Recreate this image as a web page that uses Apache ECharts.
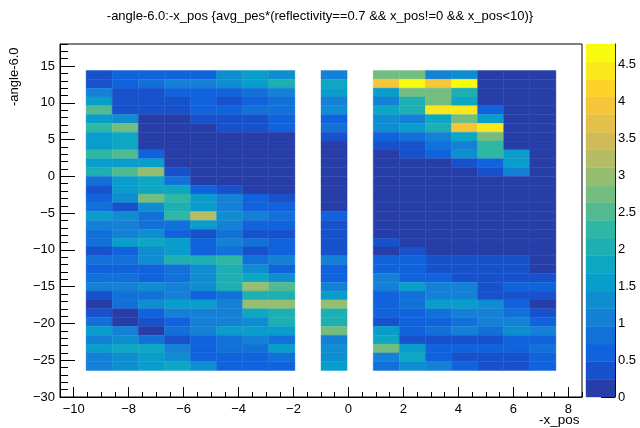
<!DOCTYPE html>
<html>
<head>
<meta charset="utf-8">
<script src="https://cdn.jsdelivr.net/npm/echarts@6/dist/echarts.min.js"></script>
<style>
  html, body { margin: 0; padding: 0; background: #fff; }
  #chart { width: 640px; height: 428px; }
</style>
</head>
<body>
<div id="chart"></div>
<script>
// tick labels
const xTickLabels = [-10, -8, -6, -4, -2, 0, 2, 4, 6, 8];
const yTickLabels = [-30, -25, -20, -15, -10, -5, 0, 5, 10, 15];
const zTickLabels = [0, 0.5, 1, 1.5, 2, 2.5, 3, 3.5, 4, 4.5];

// binning of the histogram (20 x bins, 40 y bins)
const X_LO = -10.5, X_HI = 8.5, X_BIN = 0.95;
const Y_LO = -30, Y_HI = 18, Y_BIN = 1.2;
const ZMAX = 4.77;
const NLEV = 20;

// x bins that hold data
const binsLeft = [1, 2, 3, 4, 5, 6, 7, 8];
const binMid = 10;
const binsRight = [12, 13, 14, 15, 16, 17, 18];
// y bin of the first row below (rows go downwards)
const topRowBin = 36;

// values, one row per y bin, from top to bottom
const zLeft = [
  [0.36, 0.6, 0.6, 0.6, 0.7, 1.2, 1.45, 1.2],
  [0.36, 0.6, 0.83, 1.07, 1.07, 1.31, 1.55, 2.03],
  [1.07, 0.36, 0.36, 0.6, 0.6, 0.6, 0.83, 1.0],
  [1.55, 0.36, 0.36, 0.36, 0.6, 0.36, 0.6, 0.83],
  [2.5, 0.36, 0.36, 0.36, 0.6, 0.6, 0.83, 0.83],
  [1.55, 1.2, 0.1, 0.1, 0.36, 0.36, 0.36, 0.6],
  [2.27, 2.74, 0.1, 0.1, 0.1, 0.36, 0.36, 0.6],
  [1.55, 1.79, 0.1, 0.1, 0.1, 0.1, 0.1, 0.1],
  [1.55, 1.79, 0.1, 0.1, 0.1, 0.1, 0.1, 0.1],
  [2.27, 2.5, 0.6, 0.1, 0.1, 0.1, 0.1, 0.1],
  [1.55, 1.55, 1.6, 0.1, 0.1, 0.1, 0.1, 0.1],
  [2.03, 2.5, 2.98, 0.36, 0.1, 0.1, 0.1, 0.1],
  [0.83, 1.55, 1.79, 0.9, 0.1, 0.1, 0.1, 0.1],
  [0.36, 1.55, 1.79, 1.85, 0.6, 0.36, 0.1, 0.1],
  [0.7, 1.31, 2.74, 2.27, 1.55, 1.1, 0.7, 0.36],
  [0.9, 0.4, 1.31, 2.03, 1.55, 1.1, 0.6, 0.5],
  [1.55, 1.25, 0.83, 2.27, 3.22, 1.25, 1.07, 0.9],
  [1.07, 1.07, 0.83, 0.83, 1.55, 1.07, 0.6, 0.6],
  [0.85, 1.07, 1.25, 0.6, 0.36, 0.83, 0.36, 0.36],
  [0.85, 1.55, 1.79, 1.55, 0.6, 1.07, 0.75, 0.6],
  [0.36, 0.6, 1.31, 1.5, 0.7, 0.83, 0.36, 0.6],
  [0.83, 0.83, 1.31, 2.03, 2.03, 2.27, 0.83, 1.07],
  [0.6, 0.6, 0.6, 0.83, 1.31, 2.03, 1.31, 0.6],
  [0.75, 0.75, 0.6, 0.75, 1.31, 2.03, 1.79, 1.25],
  [1.07, 1.07, 1.31, 1.07, 1.31, 2.03, 2.98, 2.5],
  [0.36, 0.8, 0.83, 1.07, 0.6, 0.83, 2.03, 2.03],
  [0.15, 0.83, 1.25, 1.5, 1.5, 1.07, 2.98, 2.98],
  [0.36, 0.15, 0.6, 1.07, 1.07, 1.07, 1.79, 2.03],
  [0.83, 0.15, 0.36, 0.6, 1.07, 1.07, 1.31, 2.03],
  [1.55, 1.07, 0.15, 0.83, 1.07, 1.55, 1.55, 1.55],
  [1.0, 1.25, 0.8, 0.36, 0.6, 0.83, 1.07, 0.83],
  [1.55, 1.79, 1.79, 1.07, 0.6, 0.83, 0.83, 1.55],
  [1.07, 1.31, 1.55, 1.31, 0.6, 0.6, 0.6, 0.83],
  [1.07, 1.31, 1.55, 1.9, 1.31, 0.6, 0.6, 0.6]
];

const zMid = [1.07, 1.79, 1.55, 1.07, 1.31, 0.6, 0.83, 0.36, 0.1, 0.1, 0.1, 0.1,
  0.1, 0.1, 0.1, 0.1, 0.6, 0.36, 0.36, 0.36, 0.36, 1.07, 0.7, 0.6, 1.07, 1.55,
  2.98, 2.03, 2.03, 2.74, 1.07, 1.31, 1.31, 1.55];

const zRight = [
  [2.74, 2.74, 1.07, 1.31, 0.1, 0.1, 0.1],
  [3.95, 4.77, 3.95, 4.65, 0.1, 0.1, 0.1],
  [1.55, 2.74, 2.74, 2.03, 0.1, 0.1, 0.1],
  [1.07, 2.03, 2.74, 1.79, 0.1, 0.1, 0.1],
  [1.79, 2.03, 4.41, 4.41, 0.6, 0.1, 0.1],
  [1.31, 1.07, 1.79, 2.74, 1.55, 0.1, 0.1],
  [1.31, 1.55, 2.03, 3.95, 4.41, 0.1, 0.1],
  [0.6, 0.83, 1.07, 1.79, 2.74, 0.1, 0.1],
  [0.36, 0.36, 0.83, 1.07, 2.27, 0.1, 0.1],
  [0.1, 0.36, 0.6, 1.31, 2.27, 1.55, 0.1],
  [0.1, 0.1, 0.1, 0.36, 0.6, 1.55, 0.1],
  [0.1, 0.1, 0.1, 0.1, 0.36, 1.07, 0.1],
  [0.1, 0.1, 0.1, 0.1, 0.1, 0.1, 0.1],
  [0.1, 0.1, 0.1, 0.1, 0.1, 0.1, 0.1],
  [0.1, 0.1, 0.1, 0.1, 0.1, 0.1, 0.1],
  [0.1, 0.1, 0.1, 0.1, 0.1, 0.1, 0.1],
  [0.1, 0.1, 0.1, 0.1, 0.1, 0.1, 0.1],
  [0.1, 0.1, 0.1, 0.1, 0.1, 0.1, 0.1],
  [0.1, 0.1, 0.1, 0.1, 0.1, 0.1, 0.1],
  [0.36, 0.1, 0.1, 0.1, 0.1, 0.1, 0.1],
  [0.1, 0.36, 0.1, 0.1, 0.1, 0.1, 0.1],
  [0.6, 0.6, 0.36, 0.36, 0.36, 0.36, 0.1],
  [0.6, 0.6, 0.36, 0.36, 0.36, 0.36, 0.1],
  [1.07, 0.6, 0.6, 0.36, 0.36, 0.36, 0.36],
  [1.07, 1.55, 1.07, 1.07, 0.36, 0.6, 0.6],
  [0.6, 0.83, 1.07, 1.07, 0.36, 0.36, 0.36],
  [0.6, 0.83, 1.55, 1.55, 1.31, 0.6, 0.1],
  [0.6, 0.6, 0.83, 1.07, 1.07, 0.83, 0.36],
  [0.36, 0.6, 0.6, 0.83, 1.07, 1.07, 0.6],
  [1.55, 0.6, 0.83, 1.07, 0.83, 1.31, 1.07],
  [1.79, 0.36, 0.36, 0.36, 0.36, 0.6, 0.6],
  [2.74, 1.55, 0.6, 0.6, 0.6, 0.6, 0.83],
  [1.07, 1.79, 0.6, 0.36, 0.36, 0.36, 0.6],
  [0.83, 1.31, 1.07, 0.6, 0.36, 0.36, 0.6]
];

// ROOT "bird" palette
const birdStops = [0, 0.125, 0.25, 0.375, 0.5, 0.625, 0.75, 0.875, 1];
const birdR = [0.2082, 0.0592, 0.0780, 0.0232, 0.1802, 0.5301, 0.8186, 0.9956, 0.9764];
const birdG = [0.1664, 0.3599, 0.5041, 0.6419, 0.7178, 0.7492, 0.7328, 0.7862, 0.9832];
const birdB = [0.5293, 0.8684, 0.8385, 0.7914, 0.6425, 0.4662, 0.3499, 0.1968, 0.0539];

function bird(f) {
  let i = 0;
  while (i < birdStops.length - 2 && f > birdStops[i + 1]) i++;
  const t = (f - birdStops[i]) / (birdStops[i + 1] - birdStops[i]);
  const c = a => Math.round(255 * (a[i] + t * (a[i + 1] - a[i])));
  return 'rgb(' + c(birdR) + ',' + c(birdG) + ',' + c(birdB) + ')';
}
function levelColor(k) {
  const idx = Math.min(254, Math.floor((k + 0.99) * 255 / NLEV));
  return bird(idx / 254);
}
function valueColor(z) {
  let k = Math.floor(z / (ZMAX / NLEV));
  if (k > NLEV - 1) k = NLEV - 1;
  return levelColor(k);
}

// cells: [x bin, y bin, value]
let cells = [];
for (let r = 0; r < zLeft.length; r++) {
  const yb = topRowBin - r;
  binsLeft.forEach((xb, c) => cells.push([xb, yb, zLeft[r][c]]));
  cells.push([binMid, yb, zMid[r]]);
  binsRight.forEach((xb, c) => cells.push([xb, yb, zRight[r][c]]));
}

let levels = [];
for (let k = 0; k < NLEV; k++) levels.push([k]);

function range(a, b, step) {
  let out = [];
  for (let v = a; v <= b + 1e-9; v += step) out.push(Math.round(v * 100) / 100);
  return out;
}
const xMinor = range(X_LO, X_HI, 0.5).filter(v => xTickLabels.indexOf(v) < 0);
const yMinor = range(Y_LO, Y_HI, 1).filter(v => yTickLabels.indexOf(v) < 0);

const FONT = 'Liberation Sans, Arial, sans-serif';
const minus = v => String(v).replace('-', '\u2212');

let myChart = echarts.init(document.getElementById('chart'), null, { renderer: 'canvas' });

let option = {
  animation: false,
  backgroundColor: '#fff',
  title: {
    text: '-angle-6.0:-x_pos {avg_pes*(reflectivity==0.7 && x_pos!=0 && x_pos<10)}',
    left: 'center',
    top: 5,
    textStyle: { fontFamily: FONT, fontSize: 13, fontWeight: 'normal', color: '#000' }
  },
  grid: [
    { left: 60, right: 58, top: 44, bottom: 31, show: true, borderColor: '#000', borderWidth: 1, backgroundColor: 'transparent' },
    { left: 586, right: 25, top: 44, bottom: 31 }
  ],
  xAxis: [
    {
      type: 'value', gridIndex: 0, min: X_LO, max: X_HI, position: 'bottom',
      axisLine: { onZero: false, lineStyle: { color: '#000', width: 1 } },
      axisTick: { inside: true, length: 10, lineStyle: { color: '#000' }, customValues: xTickLabels },
      axisLabel: { customValues: xTickLabels, formatter: minus, color: '#000', fontFamily: FONT, fontSize: 13, margin: 6 },
      splitLine: { show: false }
    },
    {
      type: 'value', gridIndex: 0, min: X_LO, max: X_HI, position: 'bottom', offset: 0,
      axisLine: { show: false, onZero: false },
      axisTick: { inside: true, length: 5, lineStyle: { color: '#000' }, customValues: xMinor },
      axisLabel: { show: false },
      splitLine: { show: false }
    },
    {
      type: 'value', gridIndex: 1, min: 0, max: 1, show: false
    }
  ],
  yAxis: [
    {
      type: 'value', gridIndex: 0, min: Y_LO, max: Y_HI, position: 'left',
      axisLine: { show: true, onZero: false, lineStyle: { color: '#000', width: 1 } },
      axisTick: { show: true, inside: true, length: 15, lineStyle: { color: '#000' }, customValues: yTickLabels },
      axisLabel: { customValues: yTickLabels, formatter: minus, color: '#000', fontFamily: FONT, fontSize: 13, margin: 5 },
      splitLine: { show: false }
    },
    {
      type: 'value', gridIndex: 0, min: Y_LO, max: Y_HI, position: 'left', offset: 0,
      axisLine: { show: false, onZero: false },
      axisTick: { show: true, inside: true, length: 8, lineStyle: { color: '#000' }, customValues: yMinor },
      axisLabel: { show: false },
      splitLine: { show: false }
    },
    {
      type: 'value', gridIndex: 1, min: 0, max: ZMAX, position: 'right',
      axisLine: { show: true, onZero: false, lineStyle: { color: '#000', width: 1 } },
      axisTick: { show: true, inside: true, length: 14, lineStyle: { color: '#000' }, customValues: zTickLabels },
      axisLabel: { customValues: zTickLabels, color: '#000', fontFamily: FONT, fontSize: 13, margin: 3 },
      splitLine: { show: false }
    }
  ],
  graphic: [
    {
      type: 'text', left: 539, top: 413,
      style: { text: '-x_pos', fontFamily: FONT, fontSize: 13.5, fill: '#000' }
    },
    {
      type: 'text', x: 8, y: 106, rotation: Math.PI / 2,
      style: { text: '-angle-6.0', fontFamily: FONT, fontSize: 13, fill: '#000' }
    }
  ],
  series: [
    {
      type: 'custom',
      xAxisIndex: 0,
      yAxisIndex: 0,
      renderItem: function (params, api) {
        const xb = api.value(0), yb = api.value(1);
        const p0 = api.coord([X_LO + xb * X_BIN, Y_LO + (yb + 1) * Y_BIN]);
        const p1 = api.coord([X_LO + (xb + 1) * X_BIN, Y_LO + yb * Y_BIN]);
        const col = valueColor(api.value(2));
        return {
          type: 'rect',
          shape: { x: p0[0], y: p0[1], width: p1[0] - p0[0], height: p1[1] - p0[1] },
          style: { fill: col, stroke: col, lineWidth: 0.4 }
        };
      },
      encode: { x: 0, y: 1 },
      data: cells,
      z: 1
    },
    {
      type: 'custom',
      xAxisIndex: 2,
      yAxisIndex: 2,
      renderItem: function (params, api) {
        const k = api.value(0);
        const dz = ZMAX / NLEV;
        const p0 = api.coord([0, (k + 1) * dz]);
        const p1 = api.coord([1, k * dz]);
        const col = levelColor(k);
        return {
          type: 'rect',
          shape: { x: p0[0], y: p0[1], width: p1[0] - p0[0], height: p1[1] - p0[1] },
          style: { fill: col, stroke: col, lineWidth: 0.4 }
        };
      },
      encode: { y: 0 },
      data: levels,
      z: 1
    }
  ]
};
myChart.setOption(option);

window.addEventListener('resize', function () {
  myChart.resize();
});
</script>
</body>
</html>
